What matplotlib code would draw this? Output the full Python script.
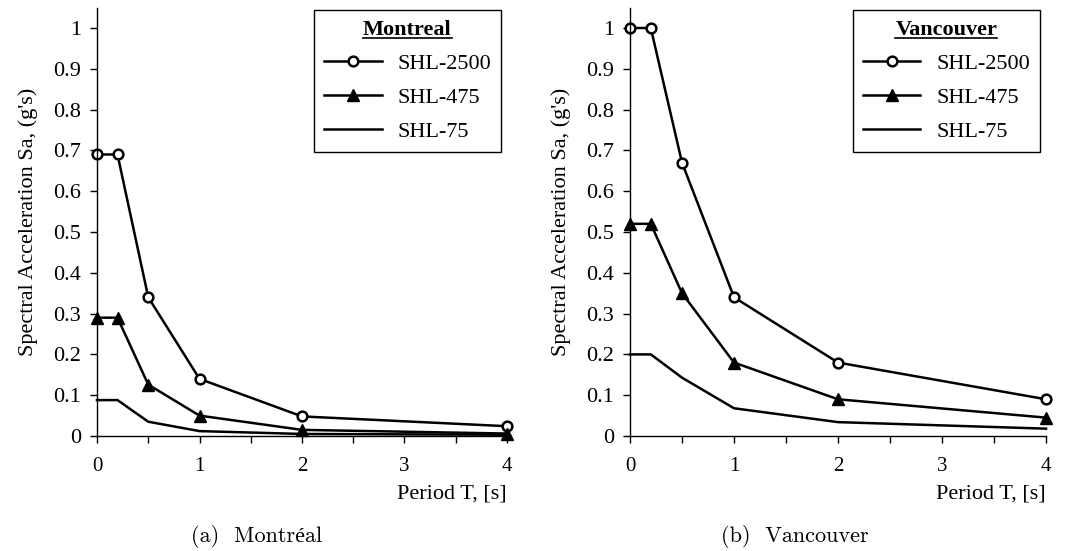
import matplotlib
matplotlib.use("Agg")
import matplotlib.pyplot as plt
from matplotlib.lines import Line2D

plt.rcParams['font.family'] = ['Liberation Serif', 'DejaVu Serif']

period = [0, 0.2, 0.5, 1, 2, 4]
series_names = ["SHL-2500", "SHL-475", "SHL-75"]

montreal_2500 = [0.69, 0.69, 0.34, 0.14, 0.048, 0.024]
montreal_475 = [0.29, 0.29, 0.126, 0.05, 0.015, 0.006]
montreal_75 = [0.088, 0.088, 0.035, 0.012, 0.005, 0.003]

vancouver_2500 = [1.0, 1.0, 0.67, 0.34, 0.18, 0.09]
vancouver_475 = [0.52, 0.52, 0.35, 0.18, 0.09, 0.045]
vancouver_75 = [0.2, 0.2, 0.143, 0.068, 0.034, 0.018]

panels = [
    ("Montreal", [montreal_2500, montreal_475, montreal_75], "(a)  Montréal"),
    ("Vancouver", [vancouver_2500, vancouver_475, vancouver_75], "(b)  Vancouver"),
]

xticks_major = [0, 1, 2, 3, 4]
xticks_all = [0, 0.5, 1, 1.5, 2, 2.5, 3, 3.5, 4]
yticks = [round(0.1 * i, 1) for i in range(11)]
ytick_labels = ["0"] + [f"{v:.1f}" for v in yticks[1:-1]] + ["1"]

W, H = 1067, 551
fig = plt.figure(figsize=(W / 100, H / 100), dpi=100)

ax_boxes = [(97, 507), (630, 1046)]
caption_x = [257, 795]
top_px, bottom_px = 8, 436

styles = [
    dict(marker='o', markersize=7, markerfacecolor='white', markeredgewidth=1.8),
    dict(marker='^', markersize=8, markerfacecolor='black', markeredgewidth=1.0),
    dict(marker=None),
]

axes = []
for (x0, x1), cx, (name, data, caption) in zip(ax_boxes, caption_x, panels):
    ax = fig.add_axes([x0 / W, 1 - bottom_px / H, (x1 - x0) / W, (bottom_px - top_px) / H])
    axes.append(ax)
    for vals, lab, st in zip(data, series_names, styles):
        ax.plot(period, vals, color='black', linewidth=1.8, label=lab, clip_on=False, **st)
    ax.set_xlim(0, 4)
    ax.set_ylim(0, 1.049)
    ax.spines['top'].set_visible(False)
    ax.spines['right'].set_visible(False)
    ax.spines['left'].set_linewidth(1.0)
    ax.spines['bottom'].set_linewidth(1.0)
    ax.set_xticks(xticks_all)
    ax.set_xticklabels([str(int(t)) if t in xticks_major else "" for t in xticks_all])
    ax.set_yticks(yticks)
    ax.set_yticklabels(ytick_labels)
    ax.tick_params(axis='y', direction='out', length=5, width=1, labelsize=16, pad=6.5)
    ax.tick_params(axis='x', direction='out', length=5, width=1, labelsize=15, pad=10)
    ax.set_ylabel("Spectral Acceleration Sa, (g's)", fontsize=16, labelpad=11)
    ax.set_xlabel("Period T, [s]", fontsize=16, loc='right', labelpad=6)
    leg = ax.legend(loc='upper right', bbox_to_anchor=(0.985, 0.995), title=name,
                    fontsize=16, title_fontproperties={'weight': 'bold', 'size': 16},
                    fancybox=False, framealpha=1, edgecolor='black',
                    handlelength=2.6, handletextpad=0.7, labelspacing=0.6,
                    borderpad=0.45, borderaxespad=0)
    leg.get_frame().set_linewidth(1.0)
    fig.text(cx / W, 1 - 537 / H, caption, ha='center', va='center', fontsize=16,
             family=['cmr10', 'Liberation Serif'])

fig.canvas.draw()
renderer = fig.canvas.get_renderer()
for ax in axes:
    t = ax.get_legend().get_title()
    bb = t.get_window_extent(renderer)
    y = bb.y0 + 2
    fig.add_artist(Line2D([bb.x0 / W, bb.x1 / W], [y / H, y / H], color='black', linewidth=1.2,
                          transform=fig.transFigure))

fig.savefig("out.png", dpi=100)
